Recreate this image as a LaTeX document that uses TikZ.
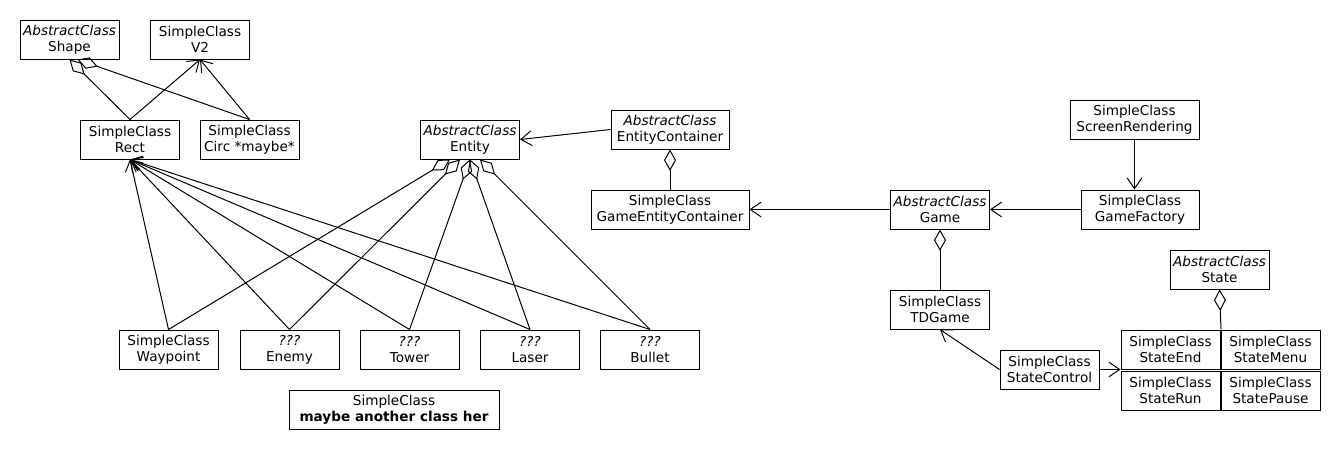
\documentclass[tikz,border=0pt]{standalone}
\usepackage{fontspec}
\setmainfont{DejaVu Sans}
\usetikzlibrary{arrows.meta}
\tikzset{
  cls/.style={draw, minimum width=74.25pt, minimum height=29.25pt,
    inner sep=1pt, align=center, font=\fontsize{10.2pt}{12pt}\selectfont},
  agg/.style={{Diamond[open,length=16pt,width=9pt]}-},
  dep/.style={-{Straight Barb[length=8pt,width=11pt]}}
}
\newcommand{\absclass}[1]{\textit{AbstractClass}\\#1}
\newcommand{\simpleclass}[1]{SimpleClass\\#1}

\begin{document}
\begin{tikzpicture}[x=0.75pt,y=-0.75pt,line width=0.75pt]
\useasboundingbox (0,0) rectangle (1340,450);
% shapes
\node[cls] (shape) at (69.5,39.5) {\absclass{Shape}};
\node[cls] (vtwo) at (200,39.5) {\simpleclass{V2}};
\node[cls] (rect) at (130,139.5) {\simpleclass{Rect}};
\node[cls] (circ) at (249.5,139.5) {\simpleclass{Circ *maybe*}};
% entities
\node[cls] (entity) at (470,139.5) {\absclass{Entity}};
\node[cls, minimum width=88.5pt] (entcont) at (670,129.5) {\absclass{EntityContainer}};
\node[cls, minimum width=118.5pt] (gameentcont) at (670,209.5) {\simpleclass{GameEntityContainer}};
\foreach \n/\x/\k/\t in {waypoint/168.5/SimpleClass/Waypoint, enemy/289.5/\textit{???}/Enemy,
    tower/409.5/\textit{???}/Tower, laser/530/\textit{???}/Laser, bullet/650/\textit{???}/Bullet}
  \node[cls] (\n) at (\x,349.5) {\k\\\t};
\node[cls, minimum width=157.5pt] (another) at (394,409.5) {SimpleClass\\\textbf{maybe another class her}};
% game
\node[cls] (game) at (940,209.5) {\absclass{Game}};
\node[cls, minimum width=96.75pt] (screen) at (1134.5,119.5) {\simpleclass{ScreenRendering}};
\node[cls, minimum width=88.5pt] (factory) at (1140,209.5) {\simpleclass{GameFactory}};
\node[cls] (tdgame) at (940,309.5) {\simpleclass{TDGame}};
% states
\node[cls] (state) at (1219.5,269.5) {\absclass{State}};
\node[cls] (statecontrol) at (1049.5,369.5) {\simpleclass{StateControl}};
\node[cls] (stateend) at (1170.5,349.5) {\simpleclass{StateEnd}};
\node[cls] (statemenu) at (1270.5,349.5) {\simpleclass{StateMenu}};
\node[cls] (staterun) at (1170.5,390.5) {\simpleclass{StateRun}};
\node[cls] (statepause) at (1270.5,390.5) {\simpleclass{StatePause}};
% connectors
\draw[agg] (shape.south) -- (rect.north);
\draw[agg] ([xshift=6pt]shape.south) -- (circ.north);
\draw[dep] (rect.north) -- (vtwo.south);
\draw[dep] (circ.north) -- (vtwo.south);
\foreach \n/\s in {waypoint/-15, enemy/-7.5, tower/0, laser/0, bullet/7.5} {
  \draw[dep] (\n.north) -- (rect.south);
  \draw[agg] ([xshift=\s pt]entity.south) -- (\n.north);
}
\draw[dep] (entcont.west) -- (entity.east);
\draw[agg] (entcont.south) -- (gameentcont.north);
\draw[dep] (game.west) -- (gameentcont.east);
\draw[dep] (factory.west) -- (game.east);
\draw[dep] (screen.south) -- (screen.south |- factory.north);
\draw[agg] (game.south) -- (tdgame.north);
\draw[dep] (statecontrol.west) -- (tdgame.south);
\draw[dep] (statecontrol.east) -- (stateend.south west);
\draw[agg] (state.south) -- ([xshift=0.4pt]stateend.north east);
\end{tikzpicture}
\end{document}
